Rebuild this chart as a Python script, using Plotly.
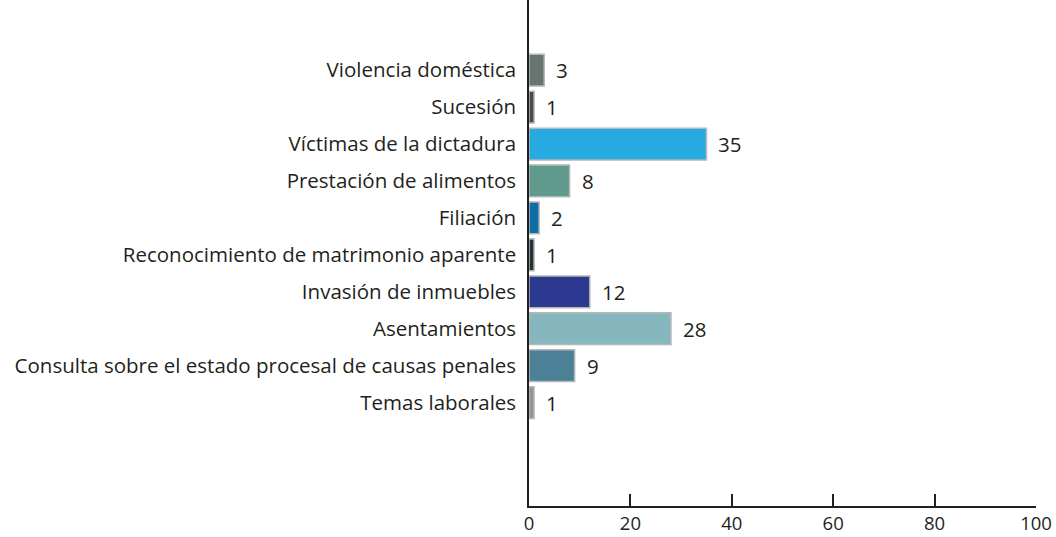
import plotly.graph_objects as go

categorias = ["Violencia doméstica", "Sucesión", "Víctimas de la dictadura", "Prestación de alimentos",
              "Filiación", "Reconocimiento de matrimonio aparente", "Invasión de inmuebles",
              "Asentamientos", "Consulta sobre el estado procesal de causas penales", "Temas laborales"]
valores = [3, 1, 35, 8, 2, 1, 12, 28, 9, 1]
colores = ["#67756f", "#4a4a4a", "#27aae1", "#5f9a8d", "#0f6da8", "#1e3437", "#2b3990",
           "#87b7be", "#4b8096", "#8f9795"]

ink = "#231f20"
fuente = "Open Sans"
tam = 20.5

fig = go.Figure()
fig.add_trace(go.Bar(x=valores, y=categorias, orientation="h",
                     marker=dict(color=colores, line=dict(color="#b5b8b8", width=1.5)),
                     width=0.86, hoverinfo="x+y"))

# etiquetas de valor a la derecha de cada barra
for c, v in zip(categorias, valores):
    fig.add_annotation(x=v, y=c, text=str(v), showarrow=False, xanchor="left",
                       xshift=10, font=dict(family=fuente, size=tam, color=ink))

fig.update_layout(
    width=1056, height=537,
    margin=dict(l=529, r=20, t=0, b=31, autoexpand=False),
    paper_bgcolor="white", plot_bgcolor="white",
    showlegend=False, bargap=0.14,
    font=dict(family=fuente, size=tam, color=ink),
)
fig.update_xaxes(range=[0, 100], dtick=20, showgrid=False, zeroline=False,
                 showline=True, linecolor=ink, linewidth=1.5,
                 ticks="inside", ticklen=12, tickwidth=1.5, tickcolor=ink,
                 ticklabelstandoff=0,
                 tickfont=dict(family=fuente, size=18.5, color=ink))
fig.update_yaxes(categoryorder="array", categoryarray=categorias,
                 range=[11.8, -1.9], showgrid=False, zeroline=False,
                 showline=True, linecolor=ink, linewidth=1.5, ticks="",
                 ticklabelstandoff=7,
                 tickfont=dict(family=fuente, size=tam, color=ink))

fig.write_html("out.html", config={"displayModeBar": False},
               post_script="document.body.style.margin='0';")
